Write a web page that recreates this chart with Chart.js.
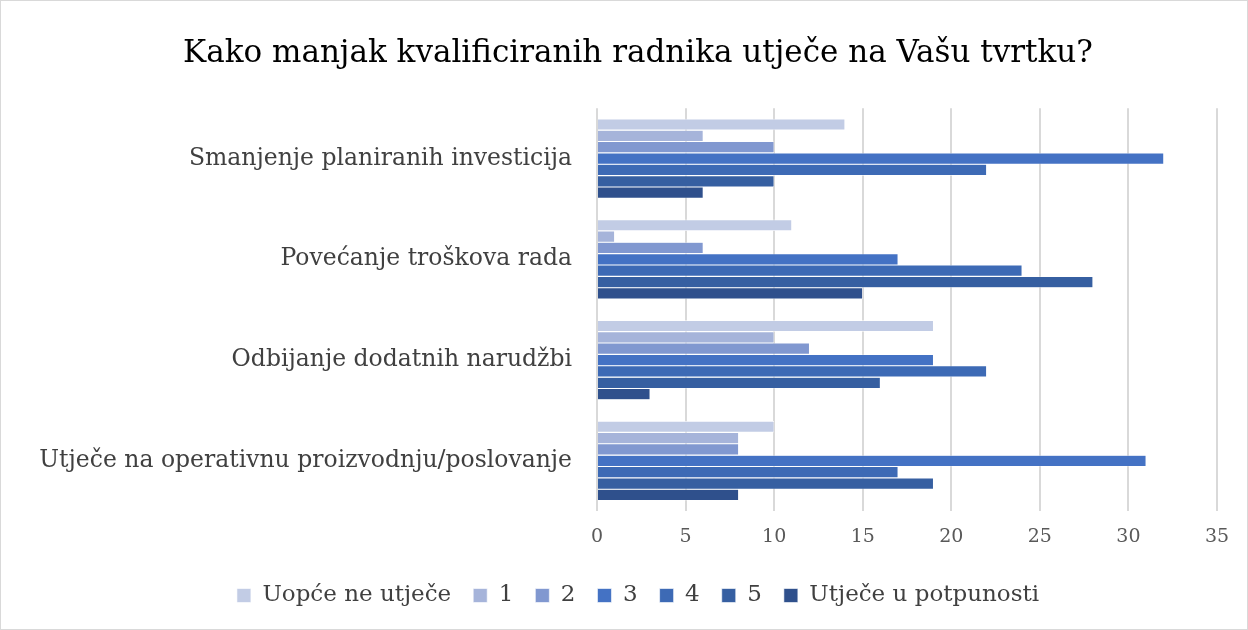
<!DOCTYPE html>
<html>
<head>
<meta charset="utf-8">
<script src="https://cdn.jsdelivr.net/npm/chart.js@4"></script>
<style>
  html, body { margin: 0; padding: 0; background: #fff; }
  #wrap { width: 1248px; height: 630px; box-sizing: border-box; border: 1px solid #d9d9d9; }
</style>
</head>
<body>
<div id="wrap"><canvas id="chart" width="1246" height="628"></canvas></div>
<script>
const categories = [
  'Smanjenje planiranih investicija',
  'Povećanje troškova rada',
  'Odbijanje dodatnih narudžbi',
  'Utječe na operativnu proizvodnju/poslovanje'
];
const seriesNames = ['Uopće ne utječe', '1', '2', '3', '4', '5', 'Utječe u potpunosti'];
const seriesColors = ['#c2cce5', '#a6b4da', '#8198d0', '#4472c4', '#3d6ab5', '#365fa1', '#2f508c'];
const notAtAll = [14, 11, 19, 10];
const one = [6, 1, 10, 8];
const two = [10, 6, 12, 8];
const three = [32, 17, 19, 31];
const four = [22, 24, 22, 17];
const five = [10, 28, 16, 19];
const fully = [6, 15, 3, 8];
const xTicks = [0, 5, 10, 15, 20, 25, 30, 35];

const values = [notAtAll, one, two, three, four, five, fully];
const serif = 'DejaVu Serif';

new Chart(document.getElementById('chart'), {
  type: 'bar',
  data: {
    labels: categories,
    datasets: values.map((v, i) => ({
      label: seriesNames[i],
      data: v,
      backgroundColor: seriesColors[i],
      borderColor: '#ffffff',
      borderWidth: 0.6,
      categoryPercentage: 0.79,
      barPercentage: 1
    }))
  },
  options: {
    indexAxis: 'y',
    responsive: false,
    animation: false,
    layout: { padding: { left: 28, right: 0, top: 10, bottom: 12 } },
    scales: {
      x: {
        min: 0,
        max: 35,
        afterBuildTicks: (scale) => { scale.ticks = xTicks.map((v) => ({ value: v })); },
        afterFit: (scale) => { scale.paddingRight = 30; },
        ticks: {
          color: '#595959',
          font: { family: serif, size: 19 },
          padding: 14
        },
        grid: { color: '#d9d9d9', lineWidth: 2, drawTicks: false },
        border: { display: false }
      },
      y: {
        ticks: {
          color: '#404040',
          font: { family: serif, size: 23.5 },
          padding: 17
        },
        grid: { display: false },
        border: { display: false },
        afterFit: (scale) => { scale.width = 568; }
      }
    },
    plugins: {
      title: {
        display: true,
        text: 'Kako manjak kvalificiranih radnika utječe na Vašu tvrtku?',
        color: '#000000',
        font: { family: serif, size: 31, weight: 'normal' },
        padding: { top: 24, bottom: 36 }
      },
      legend: {
        position: 'bottom',
        labels: {
          color: '#404040',
          font: { family: serif, size: 23 },
          boxWidth: 14,
          boxHeight: 14,
          padding: 22
        }
      },
      tooltip: { enabled: false }
    }
  }
});
</script>
</body>
</html>
